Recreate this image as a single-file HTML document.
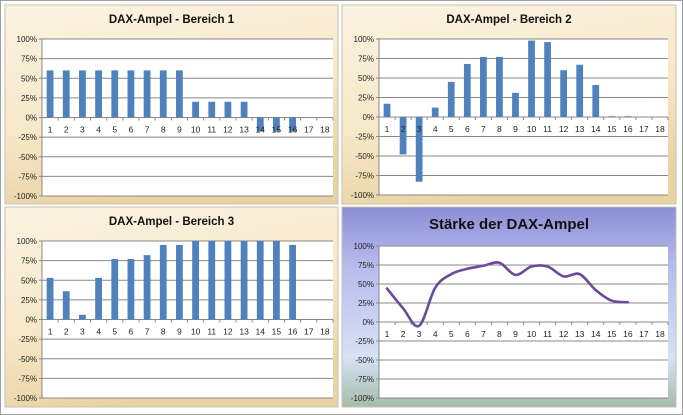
<!DOCTYPE html>
<html><head><meta charset="utf-8"><style>
body{margin:0;background:#fff;}
svg{display:block;font-family:"Liberation Sans",sans-serif;}
</style></head><body>
<svg id="c" width="683" height="415" viewBox="0 0 683 415">
<defs>
<linearGradient id="beige" x1="0" y1="0" x2="0.3" y2="1">
<stop offset="0" stop-color="#fbf3e2"/><stop offset="0.6" stop-color="#f6e8c8"/><stop offset="1" stop-color="#e9d3a4"/></linearGradient>
<linearGradient id="blue" x1="0" y1="0" x2="0" y2="1">
<stop offset="0" stop-color="#8c8ed6"/><stop offset="0.3" stop-color="#b8bcec"/><stop offset="0.75" stop-color="#d6e2f6"/><stop offset="1" stop-color="#a6bca8"/></linearGradient>
</defs>
<rect x="0.5" y="0.5" width="682" height="414" fill="#fff" stroke="#a0a0a0"/>
</svg>
<script>
const categories=[1,2,3,4,5,6,7,8,9,10,11,12,13,14,15,16,17,18];
const tickLabels=["100%","75%","50%","25%","0%","-25%","-50%","-75%","-100%"];
const tickValues=[100,75,50,25,0,-25,-50,-75,-100];
const bereich1=[60,60,60,60,60,60,60,60,60,20,20,20,20,-18,-18,-18,null,null];
const bereich2=[17,-48,-83,12,45,68,77,77,31,98,96,60,67,41,1,1,null,null];
const bereich3=[53,36,6,53,77,77,82,95,95,100,100,100,100,100,100,95,null,null];
const staerke=[44,18,-5,45,63,70,74,78,62,73,73,60,63,42,28,26,null,null];
const NS="http://www.w3.org/2000/svg";
const svg=document.getElementById('c');
function mk(t,a,p){const e=document.createElementNS(NS,t);for(const k in a)e.setAttribute(k,a[k]);(p||svg).appendChild(e);return e;}
function panel(px,py,pw,ph,title,fill,key,big,plot,data,isLine){
  const g=mk('g',{});
  
  
  const bg=mk('rect',{x:px,y:py,width:pw,height:ph,fill:fill,stroke:'#c8c0b0'},g);
  
  
  const t=mk('text',{x:px+pw/2,y:big?py+22:py+18,'text-anchor':'middle','font-size':big?15:11.5,'font-weight':'bold',fill:'#111'},g);
  t.textContent=title;
  
  
  const [x0,y0,x1,y1]=plot;
  const pa=mk('rect',{x:x0,y:y0,width:x1-x0,height:y1-y0,fill:'#fff'},g);
  
  
  const ys=v=>y0+(100-v)/200*(y1-y0);
  const bw=(x1-x0)/categories.length;
  const xs=i=>x0+bw*(i+0.5);
  tickValues.forEach((v,i)=>{
    const l=mk('line',{x1:x0-3,x2:x1,y1:ys(v),y2:ys(v),stroke:'#888','stroke-width':1},g);
    
    
    const tx=mk('text',{x:x0-5,y:ys(v)+3,'text-anchor':'end','font-size':8,fill:'#222'},g);
    tx.textContent=tickLabels[i];
    
    
  });
  mk('line',{x1:x0,x2:x0,y1:y0,y2:y1,stroke:'#888'},g);
  categories.forEach((c,i)=>{
    mk('line',{x1:x0+bw*(i+1),x2:x0+bw*(i+1),y1:ys(0),y2:ys(0)+3,stroke:'#888'},g);
  });
  if(!isLine){
    data.forEach((v,i)=>{
      if(v==null)return;
      const w=bw*0.42;
      const b=mk('rect',{x:xs(i)-w/2,y:Math.min(ys(v),ys(0)),width:w,height:Math.abs(ys(v)-ys(0)),fill:'#4f81bd'},g);
      
      
    });
  }
  categories.forEach((c,i)=>{
    const tx=mk('text',{x:xs(i),y:ys(0)+15,'text-anchor':'middle','font-size':8.5,fill:'#222'},g);
    tx.textContent=c;
    
    
  });
  if(isLine){
    const pts=[];data.forEach((v,i)=>{if(v!=null)pts.push([xs(i),ys(v)]);});
    let d='M'+pts[0][0]+','+pts[0][1];
    for(let i=0;i<pts.length-1;i++){
      const p0=pts[i-1]||pts[i],p1=pts[i],p2=pts[i+1],p3=pts[i+2]||p2;
      const c1=[p1[0]+(p2[0]-p0[0])/6,p1[1]+(p2[1]-p0[1])/6];
      const c2=[p2[0]-(p3[0]-p1[0])/6,p2[1]-(p3[1]-p1[1])/6];
      d+=' C'+c1+' '+c2+' '+p2;
    }
    const ln=mk('path',{d:d,fill:'none',stroke:'#6a4a9c','stroke-width':2.6,'stroke-linecap':'round'},g);
    
    
  }
}
panel(5,5,333,199,'DAX-Ampel - Bereich 1','url(#beige)','bereich-1',false,[42,39,333,196],bereich1,false);
panel(342,5,334,199,'DAX-Ampel - Bereich 2','url(#beige)','bereich-2',false,[379,39,668,195],bereich2,false);
panel(5,207,333,200,'DAX-Ampel - Bereich 3','url(#beige)','bereich-3',false,[42,241,333,398],bereich3,false);
panel(342,207,334,200,'Stärke der DAX-Ampel','url(#blue)','staerke',true,[379,246,668,398],staerke,true);
</script>
</body></html>
